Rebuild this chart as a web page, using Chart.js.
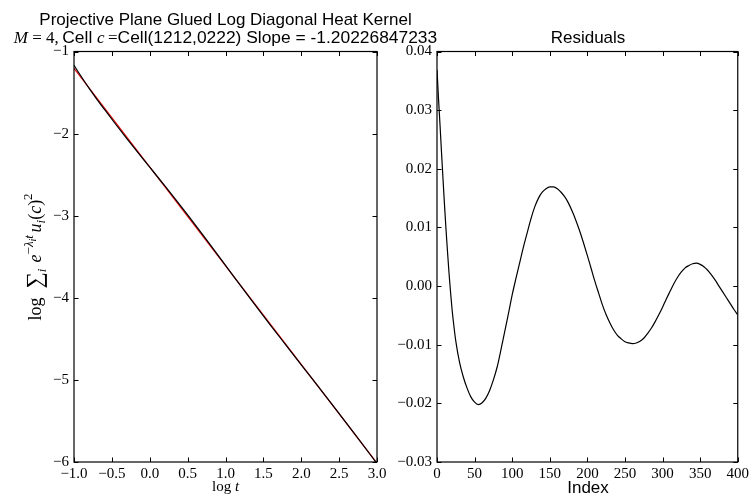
<!DOCTYPE html>
<html><head><meta charset="utf-8">
<script src="https://cdn.jsdelivr.net/npm/chart.js@4.4.0/dist/chart.umd.min.js"></script>
<style>html,body{margin:0;padding:0;background:#fff;overflow:hidden;width:752px;height:497px}
canvas{position:absolute;left:0;top:0}</style></head>
<body>
<canvas id="c1" width="752" height="497"></canvas>
<canvas id="c2" width="752" height="497"></canvas>
<script>
// ---- data ----
const logT = [-1.0,-0.95,-0.9,-0.85,-0.8,-0.7,-0.6,-0.45,-0.3,-0.2,0.0,0.2,0.5,0.8,1.1,1.35,1.6,1.8,2.0,2.2,2.45,2.7,3.0];
const logKernel = [-1.168,-1.240,-1.311,-1.381,-1.449,-1.579,-1.703,-1.886,-2.064,-2.181,-2.409,-2.638,-2.991,-3.356,-3.729,-4.038,-4.341,-4.579,-4.816,-5.051,-5.349,-5.652,-6.019];
const fitLogT = [-1.0, 3.0];
const fitLogKernel = [-1.205, -6.014];
const residIndex = [0,2,4,6,8,10,12,14,16,18,20,22,25,30,35,40,45,50,55,60,65,70,75,80,85,90,95,100,105,110,115,120,125,130,135,140,145,150,155,160,165,170,175,180,185,190,195,200,205,210,215,220,225,230,235,240,245,250,255,260,265,270,275,280,285,290,295,300,305,310,315,320,325,330,335,340,345,350,355,360,365,370,375,380,385,390,395,400];
const residValue = [0.0369,0.0320,0.0275,0.0228,0.0182,0.0138,0.0096,0.0058,0.0022,-0.0010,-0.0039,-0.0063,-0.0094,-0.0130,-0.0155,-0.0174,-0.0189,-0.0198,-0.0202,-0.0199,-0.0191,-0.0178,-0.0160,-0.0138,-0.0109,-0.0078,-0.0047,-0.0015,0.0013,0.0040,0.0067,0.0091,0.0115,0.0135,0.0150,0.0160,0.0166,0.0169,0.0169,0.0166,0.0160,0.0152,0.0141,0.0127,0.0111,0.0093,0.0073,0.0052,0.0030,0.0008,-0.0012,-0.0032,-0.0049,-0.0063,-0.0075,-0.0084,-0.0090,-0.0095,-0.0097,-0.0098,-0.0097,-0.0094,-0.0089,-0.0081,-0.0072,-0.0061,-0.0049,-0.0036,-0.0022,-0.0009,0.0004,0.0015,0.0024,0.0031,0.0035,0.0038,0.0039,0.0037,0.0033,0.0027,0.0019,0.0010,0.0000,-0.0010,-0.0020,-0.0030,-0.0040,-0.0049];
const leftXTicks = [-1.0,-0.5,0.0,0.5,1.0,1.5,2.0,2.5,3.0];
const leftYTicks = [-6,-5,-4,-3,-2,-1];
const rightXTicks = [0,50,100,150,200,250,300,350,400];
const rightYTicks = [-0.03,-0.02,-0.01,0.00,0.01,0.02,0.03,0.04];

const SERIF = '"Liberation Serif", "DejaVu Serif", serif';
const SANS = '"Liberation Sans", Arial, sans-serif';
const minus = s => s.replace('-', '\u2212');

function drawRuns(ctx, runs, cx, cy, rot){
  ctx.save();
  ctx.translate(cx, cy); if (rot) ctx.rotate(rot);
  ctx.textBaseline = 'alphabetic'; ctx.textAlign = 'left'; ctx.fillStyle = '#000';
  let w = 0;
  runs.forEach(r => { ctx.font = r.f; r.w = ctx.measureText(r.t).width; w += r.w; });
  let x = -w/2;
  runs.forEach(r => { ctx.font = r.f; ctx.fillText(r.t, x, r.dy || 0); x += r.w; });
  ctx.restore();
}

const frame = {
  id: 'frame',
  afterDatasetsDraw(chart){
    const {ctx, chartArea: a, scales: {x, y}} = chart;
    const L = 4.5;
    ctx.save();
    ctx.strokeStyle = '#000'; ctx.lineWidth = 1;
    ctx.beginPath();
    x.ticks.forEach(t => { const p = Math.round(x.getPixelForValue(t.value)) + 0.5;
      ctx.moveTo(p, a.bottom); ctx.lineTo(p, a.bottom - L);
      ctx.moveTo(p, a.top); ctx.lineTo(p, a.top + L); });
    y.ticks.forEach(t => { const p = Math.round(y.getPixelForValue(t.value)) + 0.5;
      ctx.moveTo(a.left, p); ctx.lineTo(a.left + L, p);
      ctx.moveTo(a.right, p); ctx.lineTo(a.right - L, p); });
    ctx.stroke();
    ctx.lineWidth = 1.2;
    ctx.strokeRect(a.left, a.top, a.right - a.left, a.bottom - a.top);
    ctx.restore();
  }
};

function axisOpts(ticksArr, fmt, size, isY){
  return {
    type: 'linear',
    min: Math.min(...ticksArr), max: Math.max(...ticksArr),
    afterBuildTicks: s => { s.ticks = ticksArr.map(v => ({value: v})); },
    afterFit: s => { if (isY) s.width = size; else s.height = size; },
    grid: {display: false, drawTicks: false},
    border: {display: false},
    ticks: {autoSkip: false, maxRotation: 0, color: '#000', padding: isY ? 5 : 3,
      font: {family: SERIF, size: 15}, callback: v => minus(fmt(v))}
  };
}

const leftText = {
  id: 'leftText',
  afterDraw(chart){
    const ctx = chart.ctx;
    const s17 = '17px ' + SANS, m17 = '17px ' + SERIF, i17 = 'italic 17px ' + SERIF;
    const s175 = '17.4px ' + SANS;
    drawRuns(ctx, [{t: 'Projective Plane Glued Log Diagonal Heat Kernel', f: s17}], 225.5, 25);
    drawRuns(ctx, [
      {t: 'M', f: i17}, {t: ' = 4,', f: m17}, {t: '\u2009Cell ', f: s175},
      {t: 'c', f: i17}, {t: '\u2009=', f: m17},
      {t: 'Cell(1212,0222) Slope = -1.20226847233', f: s175}], 225.5, 43);
    const m15 = '15px ' + SERIF, i15 = 'italic 15px ' + SERIF;
    drawRuns(ctx, [{t: 'log ', f: m15}, {t: 't', f: i15}], 225.5, 491);
    const m18 = '18px ' + SERIF, i18 = 'italic 18px ' + SERIF;
    const m13 = '13px ' + SERIF, i13 = 'italic 13px ' + SERIF, i10 = 'italic 10px ' + SERIF;
    drawRuns(ctx, [
      {t: 'log\u2002', f: m18}, {t: '\u2211', f: '23px ' + SERIF, dy: 1}, {t: 'i\u2009', f: i13, dy: 5},
      {t: '\u2009e', f: i18}, {t: '\u2212', f: m13, dy: -8}, {t: '\u03bb', f: i13, dy: -8},
      {t: 'i', f: i10, dy: -5}, {t: 't\u2009', f: i13, dy: -8},
      {t: 'u', f: i18}, {t: 'i', f: i13, dy: 4}, {t: '(', f: m18}, {t: 'c', f: i18},
      {t: ')', f: m18}, {t: '2', f: m13, dy: -9}], 41, 257, -Math.PI/2);
  }
};

const rightText = {
  id: 'rightText',
  afterDraw(chart){
    const ctx = chart.ctx;
    drawRuns(ctx, [{t: 'Residuals', f: '17px ' + SANS}], 588, 43);
    drawRuns(ctx, [{t: 'Index', f: '17px ' + SANS}], 588, 493);
  }
};

Chart.defaults.animation = false;

new Chart(document.getElementById('c1'), {
  type: 'scatter',
  data: {datasets: [
    {data: logT.map((v, i) => ({x: v, y: logKernel[i]})), showLine: true, borderColor: '#000',
     borderWidth: 1.2, pointRadius: 0, cubicInterpolationMode: 'monotone'},
    {data: fitLogT.map((v, i) => ({x: v, y: fitLogKernel[i]})), showLine: true, borderColor: '#e00000',
     borderWidth: 1.2, pointRadius: 0}
  ]},
  options: {
    responsive: false, animation: false,
    layout: {padding: {left: 0, top: 51.5, right: 375, bottom: 0}},
    plugins: {legend: {display: false}, tooltip: {enabled: false}},
    scales: {
      x: axisOpts(leftXTicks, v => v.toFixed(1), 35, false),
      y: axisOpts(leftYTicks, v => v.toFixed(0), 74, true)
    }
  },
  plugins: [frame, leftText]
});

new Chart(document.getElementById('c2'), {
  type: 'scatter',
  data: {datasets: [
    {data: residIndex.map((v, i) => ({x: v, y: residValue[i]})), showLine: true, borderColor: '#000',
     borderWidth: 1.2, pointRadius: 0, cubicInterpolationMode: 'monotone'}
  ]},
  options: {
    responsive: false, animation: false,
    layout: {padding: {left: 0, top: 51.5, right: 13, bottom: 0}},
    plugins: {legend: {display: false}, tooltip: {enabled: false}},
    scales: {
      x: axisOpts(rightXTicks, v => v.toFixed(0), 35, false),
      y: axisOpts(rightYTicks, v => (Math.abs(v) < 1e-9 ? 0 : v).toFixed(2), 437, true)
    }
  },
  plugins: [frame, rightText]
});
</script>
</body></html>
